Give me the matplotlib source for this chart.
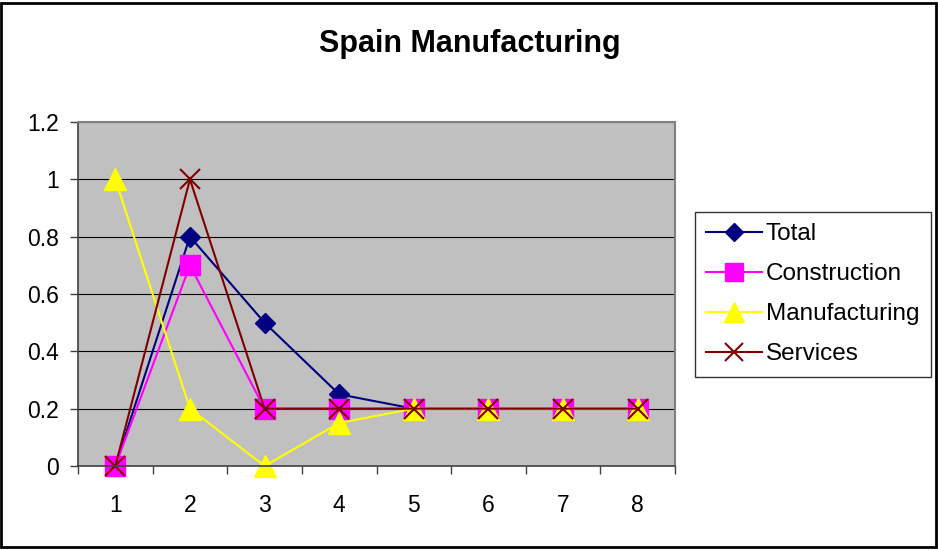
"""
Spain Manufacturing — Excel-style line chart with four series.
"""
import matplotlib
matplotlib.use("Agg")
import matplotlib.pyplot as plt
from matplotlib.patches import Rectangle

plt.rcParams["font.family"] = ["Liberation Sans", "DejaVu Sans"]

# ── data ──────────────────────────────────────────────────────────────────────
periods = [1, 2, 3, 4, 5, 6, 7, 8]
total = [0, 0.8, 0.5, 0.25, 0.2, 0.2, 0.2, 0.2]
construction = [0, 0.7, 0.2, 0.2, 0.2, 0.2, 0.2, 0.2]
manufacturing = [1, 0.2, 0, 0.15, 0.2, 0.2, 0.2, 0.2]
services = [0, 1, 0.2, 0.2, 0.2, 0.2, 0.2, 0.2]

y_ticks = [0, 0.2, 0.4, 0.6, 0.8, 1.0, 1.2]
y_labels = ["0", "0.2", "0.4", "0.6", "0.8", "1", "1.2"]

PLOT_BG = "#C0C0C0"
NAVY = "#000080"
MAGENTA = "#FF00FF"
YELLOW = "#FFFF00"
MAROON = "#800000"

# ── figure ────────────────────────────────────────────────────────────────────
W, H = 938, 550
fig = plt.figure(figsize=(W / 100, H / 100), dpi=100, facecolor="white")
ax = fig.add_axes([78 / W, (H - 466) / H, (675 - 78) / W, (466 - 122) / H])
ax.set_facecolor(PLOT_BG)

ax.plot(periods, total, color=NAVY, lw=1.5, marker="D", ms=10.5,
        mfc=NAVY, mec=NAVY, label="Total", clip_on=False)
ax.plot(periods, construction, color=MAGENTA, lw=1.5, marker="s", ms=15,
        mfc=MAGENTA, mec=MAGENTA, label="Construction", clip_on=False)
ax.plot(periods, manufacturing, color=YELLOW, lw=1.5, marker="^", ms=16,
        mfc=YELLOW, mec=YELLOW, label="Manufacturing", clip_on=False)
ax.plot(periods, services, color=MAROON, lw=1.5, marker="x", ms=15,
        mew=1.5, label="Services", clip_on=False)

# axes formatting
ax.set_xlim(0.5, 8.5)
ax.set_ylim(0, 1.2)
ax.set_yticks(y_ticks)
ax.set_yticklabels(y_labels)
ax.set_xticks(periods)
ax.set_xticklabels([str(p) for p in periods])
ax.set_xticks([p + 0.5 for p in [0] + periods], minor=True)
ax.tick_params(axis="x", which="major", length=0, pad=20, labelsize=16.5)
ax.tick_params(axis="x", which="minor", length=6, width=1, color="#404040")
ax.tick_params(axis="y", length=6, width=1, color="#404040", pad=8, labelsize=16.5)
ax.set_axisbelow(True)
ax.yaxis.grid(True, color="black", linewidth=0.8)

for side in ("top", "right"):
    ax.spines[side].set_color("#808080")
    ax.spines[side].set_linewidth(1.5)
for side in ("left", "bottom"):
    ax.spines[side].set_color("#404040")
    ax.spines[side].set_linewidth(1.2)

# ── title ─────────────────────────────────────────────────────────────────────
fig.text(470 / W, 1 - 44 / H, "Spain Manufacturing", fontsize=22,
         fontweight="bold", ha="center", va="center")

# ── legend ────────────────────────────────────────────────────────────────────
leg = fig.legend(loc="upper left", bbox_to_anchor=(695 / W, 1 - 212 / H),
                 fontsize=17.5, frameon=True, fancybox=False,
                 edgecolor="black", handlelength=2.3, handletextpad=0.15,
                 labelspacing=0.74, borderpad=0.47, borderaxespad=0,
                 markerscale=0.9)
leg.get_frame().set_linewidth(1.0)

# outer chart border
fig.add_artist(Rectangle((1 / W, 3 / H), 935 / W, 544 / H,
                         transform=fig.transFigure, fill=False,
                         edgecolor="black", linewidth=2))

fig.savefig("out.png", dpi=100, facecolor="white")
